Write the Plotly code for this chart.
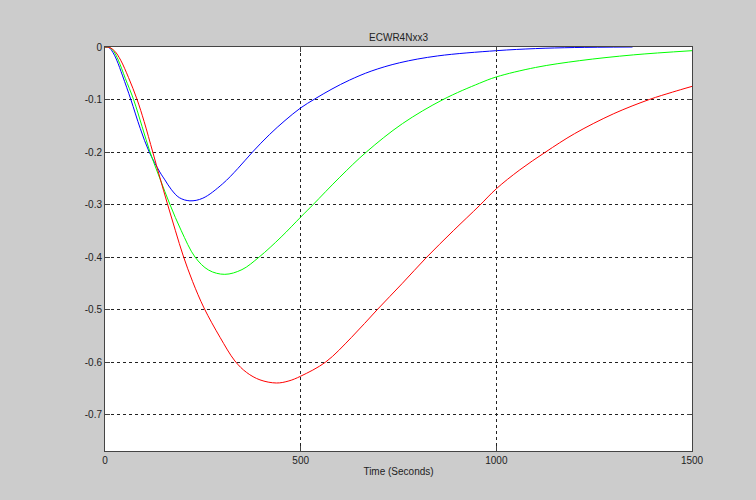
import plotly.graph_objects as go

title_text = "ECWR4Nxx3"
x_label = "Time (Seconds)"

blue_t = [0, 10, 20, 30, 45, 66, 90, 113, 140, 153, 170, 190, 217, 250, 300, 340, 377, 420, 460, 500, 536, 580, 625, 680, 753, 850, 1000, 1100, 1200, 1348]
blue_v = [0, -0.001, -0.010, -0.025, -0.055, -0.100, -0.155, -0.200, -0.238, -0.253, -0.272, -0.287, -0.293, -0.288, -0.261, -0.231, -0.200, -0.167, -0.140, -0.116, -0.099, -0.080, -0.063, -0.046, -0.030, -0.017, -0.007, -0.003, -0.001, 0.0]

green_t = [0, 12, 22, 34, 52, 73, 95, 115, 140, 166, 195, 230, 265, 306, 350, 394, 450, 500, 532, 600, 668, 760, 864, 957, 1000, 1100, 1213, 1350, 1500]
green_v = [0, -0.001, -0.008, -0.025, -0.060, -0.100, -0.152, -0.200, -0.250, -0.300, -0.350, -0.400, -0.425, -0.433, -0.424, -0.400, -0.362, -0.324, -0.300, -0.248, -0.200, -0.146, -0.100, -0.069, -0.057, -0.039, -0.026, -0.015, -0.007]

red_t = [0, 12, 25, 40, 60, 82, 100, 122, 140, 160, 180, 200, 224, 253, 294, 332, 362, 396, 438, 470, 500, 564, 630, 696, 760, 820, 890, 957, 1000, 1060, 1126, 1200, 1300, 1391, 1450, 1500]
red_v = [0, -0.001, -0.008, -0.025, -0.058, -0.100, -0.142, -0.200, -0.248, -0.300, -0.350, -0.398, -0.447, -0.497, -0.553, -0.598, -0.620, -0.634, -0.640, -0.636, -0.627, -0.600, -0.553, -0.500, -0.450, -0.402, -0.350, -0.302, -0.270, -0.234, -0.200, -0.165, -0.127, -0.100, -0.086, -0.075]

x_ticks = [0, 500, 1000, 1500]
x_ticktext = ["0", "500", "1000", "1500"]
y_ticks = [0, -0.1, -0.2, -0.3, -0.4, -0.5, -0.6, -0.7]
y_ticktext = ["0", "-0.1", "-0.2", "-0.3", "-0.4", "-0.5", "-0.6", "-0.7"]

fig = go.Figure()
for t, v, c in [(blue_t, blue_v, "#0000ff"), (green_t, green_v, "#00ff00"), (red_t, red_v, "#ff0000")]:
    fig.add_trace(go.Scatter(x=t, y=v, mode="lines", line=dict(color=c, width=1, shape="spline", smoothing=1.0),
                             showlegend=False, hoverinfo="skip"))

font_family = "Liberation Sans, Arial, sans-serif"
fig.update_layout(
    width=756, height=500,
    margin=dict(l=105, r=64, t=47, b=49, autoexpand=False),
    paper_bgcolor="#cccccc", plot_bgcolor="#ffffff",
    font=dict(family=font_family, size=10, color="#222222"),
    title=dict(text=title_text, x=0.5, xanchor="center", xref="paper",
               y=1 - 37 / 500, yanchor="middle", yref="container",
               font=dict(size=10, color="#222222", family=font_family)),
    showlegend=False,
)
fig.update_xaxes(
    range=[0, 1500], tickvals=x_ticks, ticktext=x_ticktext,
    showgrid=True, gridcolor="#222222", griddash="dot", gridwidth=1,
    showline=True, linecolor="#444444", linewidth=1, mirror="ticks",
    ticks="inside", ticklen=5, tickcolor="#444444",
    zeroline=False,
    title=dict(text=x_label, standoff=2, font=dict(size=10)),
)
fig.update_yaxes(
    range=[-0.7695, 0], tickvals=y_ticks, ticktext=y_ticktext,
    showgrid=True, gridcolor="#222222", griddash="dot", gridwidth=1,
    showline=True, linecolor="#444444", linewidth=1, mirror="ticks",
    ticks="inside", ticklen=5, tickcolor="#444444",
    zeroline=False,
)

fig.write_html(
    "out.html",
    config={"displayModeBar": False},
    post_script="document.body.style.margin='0';document.body.style.overflow='hidden';document.body.style.background='#cccccc';",
)
